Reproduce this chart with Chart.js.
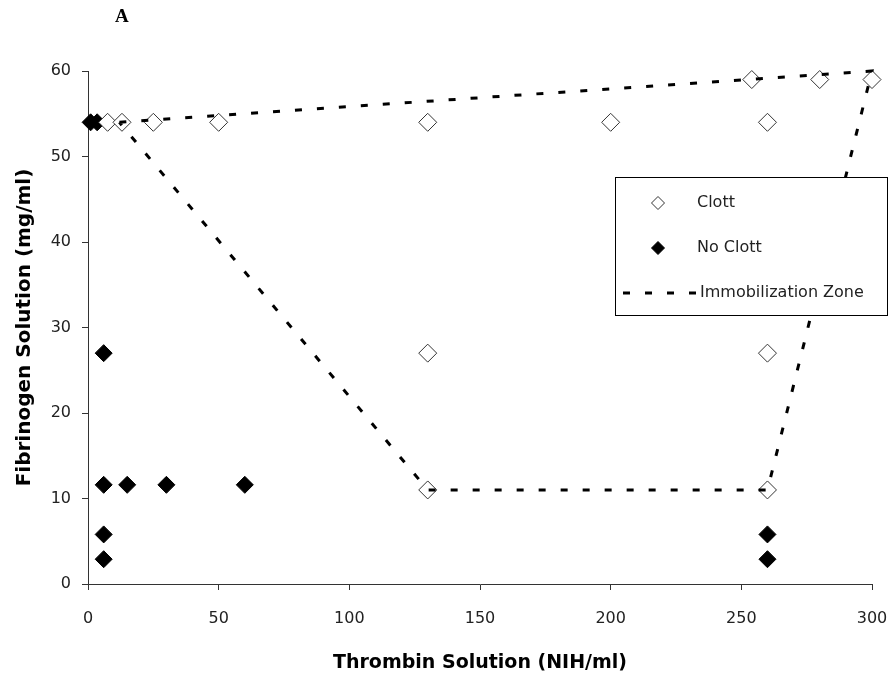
<!DOCTYPE html>
<html>
<head>
<meta charset="utf-8">
<script src="https://cdn.jsdelivr.net/npm/chart.js@4/dist/chart.umd.min.js"></script>
<style>
  body {margin: 0; background: #fff;}
  #wrap {position: relative; width: 892px; height: 675px;}
  #panel {position: absolute; left: 115px; top: 5px; font: bold 19px "Liberation Serif", serif; color: #000;}
</style>
</head>
<body>
<div id="wrap">
  <canvas id="fibrinGraph" width="892" height="675"></canvas>
  <div id="panel">A</div>
</div>
<script>
// Clott (open diamonds)
const clottX = [7.5, 13, 25, 50, 130, 200, 260, 254, 280, 300, 130, 260, 130, 260],
      clottY = [54, 54, 54, 54, 54, 54, 54, 59, 59, 59, 27, 27, 11, 11];

// No Clott (filled diamonds)
const noClottX = [1, 3.5, 6, 6, 15, 30, 60, 6, 6, 260, 260],
      noClottY = [54, 54, 27, 11.6, 11.6, 11.6, 11.6, 5.8, 2.9, 5.8, 2.9];

// Immobilization zone outline
const zoneX = [12, 300, 260, 130, 12],
      zoneY = [54, 60, 11, 11, 54];

const xTicks = [0, 50, 100, 150, 200, 250, 300],
      yTicks = [0, 10, 20, 30, 40, 50, 60];

const toPoints = (xs, ys) => xs.map((x, i) => ({x: x, y: ys[i]}));

const canvas = document.getElementById('fibrinGraph'),
      ctx = canvas.getContext('2d');

// legend box drawn inside the plot, like the Excel original
const legendBox = {
    id: 'legendBox',
    afterDraw(chart) {
        const c = chart.ctx;
        c.save();
        c.fillStyle = '#fff';
        c.strokeStyle = '#000';
        c.lineWidth = 1;
        c.fillRect(615.5, 177.5, 272, 138);
        c.strokeRect(615.5, 177.5, 272, 138);
        c.font = '16px "DejaVu Sans"';
        c.textBaseline = 'middle';
        chart.data.datasets.forEach((ds, i) => {
            const y = 203 + i * 45;
            if (ds.showLine) {
                c.save();
                c.strokeStyle = ds.borderColor;
                c.lineWidth = ds.borderWidth;
                c.setLineDash(ds.borderDash);
                c.beginPath();
                c.moveTo(623, y);
                c.lineTo(697, y);
                c.stroke();
                c.restore();
            } else {
                c.fillStyle = ds.pointBackgroundColor;
                c.strokeStyle = ds.pointBorderColor;
                c.lineWidth = 1;
                Chart.helpers.drawPoint(c, {pointStyle: 'rectRot', radius: 6.5, borderWidth: 1, rotation: 0}, 658, y);
            }
            c.fillStyle = '#222';
            c.fillText(ds.label, ds.showLine ? 700 : 697, y);
        });
        c.restore();
    }
};

new Chart(ctx, {
    type: 'scatter',
    data: {
        datasets: [
            {
                label: 'Clott',
                data: toPoints(clottX, clottY),
                pointStyle: 'rectRot',
                pointRadius: 9,
                pointBackgroundColor: '#fff',
                pointBorderColor: '#333',
                pointBorderWidth: 1,
                clip: false
            },
            {
                label: 'No Clott',
                data: toPoints(noClottX, noClottY),
                pointStyle: 'rectRot',
                pointRadius: 8.5,
                pointBackgroundColor: '#000',
                pointBorderColor: '#000',
                pointBorderWidth: 1,
                clip: false
            },
            {
                label: 'Immobilization Zone',
                data: toPoints(zoneX, zoneY),
                showLine: true,
                borderColor: '#000',
                borderWidth: 3,
                borderDash: [7, 15],
                pointRadius: 0,
                fill: false,
                order: -1,
                clip: false
            }
        ]
    },
    options: {
        responsive: false,
        animation: false,
        layout: {padding: {top: 71, right: 20, left: 0, bottom: 0}},
        plugins: {legend: {display: false}, tooltip: {enabled: false}},
        scales: {
            x: {
                type: 'linear',
                min: 0,
                max: 300,
                afterBuildTicks: s => { s.ticks = xTicks.map(v => ({value: v})); },
                afterFit: s => { s.height = 91; s.paddingLeft = 0; s.paddingRight = 0; },
                grid: {drawOnChartArea: false, drawTicks: true, tickLength: 6, color: '#333'},
                border: {color: '#333', width: 1},
                ticks: {padding: 19, color: '#222', font: {family: 'DejaVu Sans', size: 16}},
                title: {
                    display: true,
                    text: 'Thrombin Solution (NIH/ml)',
                    color: '#000',
                    font: {family: 'DejaVu Sans', size: 19, weight: 'bold', lineHeight: 1.2},
                    padding: {top: 0, bottom: 1}
                }
            },
            y: {
                type: 'linear',
                min: 0,
                max: 60,
                afterBuildTicks: s => { s.ticks = yTicks.map(v => ({value: v})); },
                afterFit: s => { s.width = 88; },
                grid: {drawOnChartArea: false, drawTicks: true, tickLength: 6, color: '#333'},
                border: {color: '#333', width: 1},
                ticks: {padding: 11, color: '#222', font: {family: 'DejaVu Sans', size: 16}},
                title: {
                    display: true,
                    text: 'Fibrinogen Solution (mg/ml)',
                    color: '#000',
                    font: {family: 'DejaVu Sans', size: 20, weight: 'bold', lineHeight: 1.2},
                    padding: {top: 13, bottom: 0}
                }
            }
        }
    },
    plugins: [legendBox]
});
</script>
</body>
</html>
